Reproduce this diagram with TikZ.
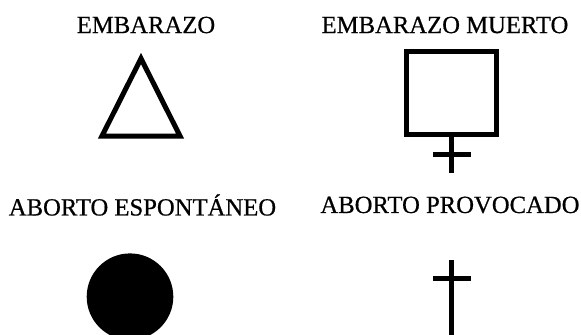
\documentclass[tikz,border=0pt]{standalone}
\usepackage{fontspec}
\setmainfont[FakeBold=0.6]{Liberation Serif}

\begin{document}
\begin{tikzpicture}[x=.75pt, y=-.75pt, font=\fontsize{18.5}{21}\selectfont]
  \tikzset{rotulo/.style={inner sep=0pt, anchor=center},
           simbolo/.style={line width=3.75pt, line join=miter}}
  \useasboundingbox (0,0) rectangle (581,335);

    %----------------------------------------------------------
    % Labels
    %----------------------------------------------------------
   \node[rotulo] (embarazo)   at (146,25)  {EMBARAZO};
   \node[rotulo] (muerto)     at (445,25)  {EMBARAZO MUERTO};
   \node[rotulo] (espontaneo) at (142.5,205) {ABORTO ESPONTÁNEO};
   \node[rotulo] (provocado)  at (450,205) {ABORTO PROVOCADO};

    %----------------------------------------------------------
    % Symbols
    %----------------------------------------------------------
   % triangle
   \draw[simbolo] (141,58.5) -- (180,136) -- (102,136) -- cycle;

   % square with cross below
   \draw[simbolo,line width=4.1pt] (406.75,51.75) rectangle (496.25,134.25);
   \draw[simbolo] (451.5,134.25) -- (451.5,172.7);
   \draw[simbolo] (433,154) -- (471,154);

   % filled circle
   \fill (130,296.7) circle (43.3);

   % cross
   \draw[simbolo] (451.7,260) -- (451.7,340);
   \draw[simbolo] (433,278) -- (471,278);
\end{tikzpicture}
\end{document}
